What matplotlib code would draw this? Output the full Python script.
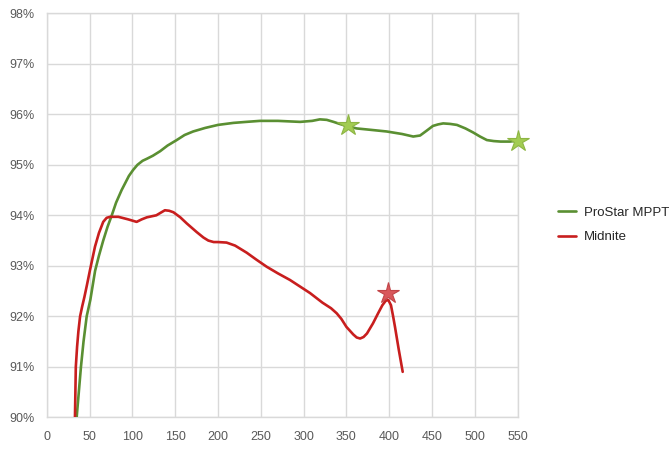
import matplotlib.pyplot as plt
from matplotlib.ticker import MultipleLocator, FuncFormatter

# --- data ---
prostar_x = [35, 37.5, 40, 43, 46.7, 51, 56.5, 61, 66, 71, 76, 81, 87.5, 96, 101, 106,
             112, 117, 124, 132.5, 141, 151.8, 161, 171, 185, 200, 218, 233, 249, 270,
             296, 310, 319, 327, 335, 342, 352, 362, 374, 397, 415, 428, 436, 444, 451,
             457, 463, 471, 479, 489, 498, 506, 514, 522, 530, 541, 550]
prostar_y = [90.0, 90.5, 91.0, 91.5, 92.0, 92.33, 92.9, 93.2, 93.5, 93.77, 94.0, 94.25,
             94.5, 94.78, 94.9, 95.0, 95.08, 95.12, 95.18, 95.27, 95.38, 95.49, 95.59,
             95.66, 95.73, 95.79, 95.83, 95.85, 95.87, 95.87, 95.85, 95.87, 95.90,
             95.89, 95.85, 95.81, 95.76, 95.72, 95.70, 95.66, 95.61, 95.56, 95.58,
             95.68, 95.77, 95.80, 95.82, 95.81, 95.79, 95.72, 95.64, 95.56, 95.49,
             95.47, 95.46, 95.46, 95.48]

midnite_x = [33, 33.5, 34, 35.5, 37, 39, 41.5, 44, 47, 50.6, 56.4, 61, 66, 70, 74,
             83.6, 95, 105, 111, 117, 128, 134, 138, 143, 148, 156, 163.5, 175, 183,
             188.7, 195, 200, 210, 220, 233.5, 245, 257, 270, 284, 307.5, 322, 332,
             338.6, 344, 350, 358, 362, 366, 370, 374, 381, 387, 392, 396, 399, 402,
             404.5, 406.7, 411, 415.7]
midnite_y = [90.0, 90.5, 91.0, 91.4, 91.7, 92.0, 92.2, 92.38, 92.62, 92.92, 93.38,
             93.65, 93.87, 93.95, 93.97, 93.97, 93.92, 93.87, 93.92, 93.96, 94.0, 94.06,
             94.10, 94.09, 94.06, 93.96, 93.84, 93.67, 93.56, 93.50, 93.47, 93.47,
             93.46, 93.40, 93.26, 93.12, 92.98, 92.85, 92.72, 92.46, 92.27, 92.16,
             92.06, 91.95, 91.79, 91.64, 91.58, 91.56, 91.59, 91.66, 91.86, 92.06,
             92.22, 92.31, 92.32, 92.22, 92.0, 91.79, 91.35, 90.90]

prostar_star_x = [352, 550]
prostar_star_y = [95.78, 95.48]
midnite_star_x = [398]
midnite_star_y = [92.47]

plt.rcParams['font.family'] = ['Liberation Sans', 'DejaVu Sans']

fig = plt.figure(figsize=(6.7, 4.5), dpi=100)
ax = fig.add_axes([0.0697, 0.0727, 0.703, 0.8977])

green = '#5A8F32'
red = '#C81E1E'

ax.plot(prostar_x, prostar_y, color=green, lw=1.9, label='ProStar MPPT', zorder=3,
        solid_joinstyle='round', solid_capstyle='round')
ax.plot(midnite_x, midnite_y, color=red, lw=1.9, label='Midnite', zorder=3,
        solid_joinstyle='round', solid_capstyle='round')

ax.plot(prostar_star_x, prostar_star_y, ls='none', marker='*', ms=16,
        mfc='#A2CC52', mec='#8DB543', mew=0.8, zorder=4, clip_on=False)
ax.plot(midnite_star_x, midnite_star_y, ls='none', marker='*', ms=16,
        mfc='#D9575B', mec='#C24447', mew=0.8, zorder=4, clip_on=False)

ax.set_xlim(0, 550)
ax.set_ylim(90, 98)
ax.xaxis.set_major_locator(MultipleLocator(50))
ax.yaxis.set_major_locator(MultipleLocator(1))
ax.yaxis.set_major_formatter(FuncFormatter(lambda v, p: f'{v:.0f}%'))

ax.grid(True, color='#D9D9D9', lw=1.0)
ax.set_axisbelow(True)
for s in ax.spines.values():
    s.set_color('#D9D9D9')
    s.set_linewidth(1.0)
ax.tick_params(length=0, labelsize=9, labelcolor='#595959')
ax.tick_params(axis='x', pad=10)
ax.tick_params(axis='y', pad=9)

fig.legend(loc='center left', bbox_to_anchor=(0.815, 0.5), frameon=False,
           fontsize=9.5, handlelength=1.4, handletextpad=0.6, labelspacing=0.9,
           labelcolor='#262626')

fig.savefig('out.png', dpi=100)
